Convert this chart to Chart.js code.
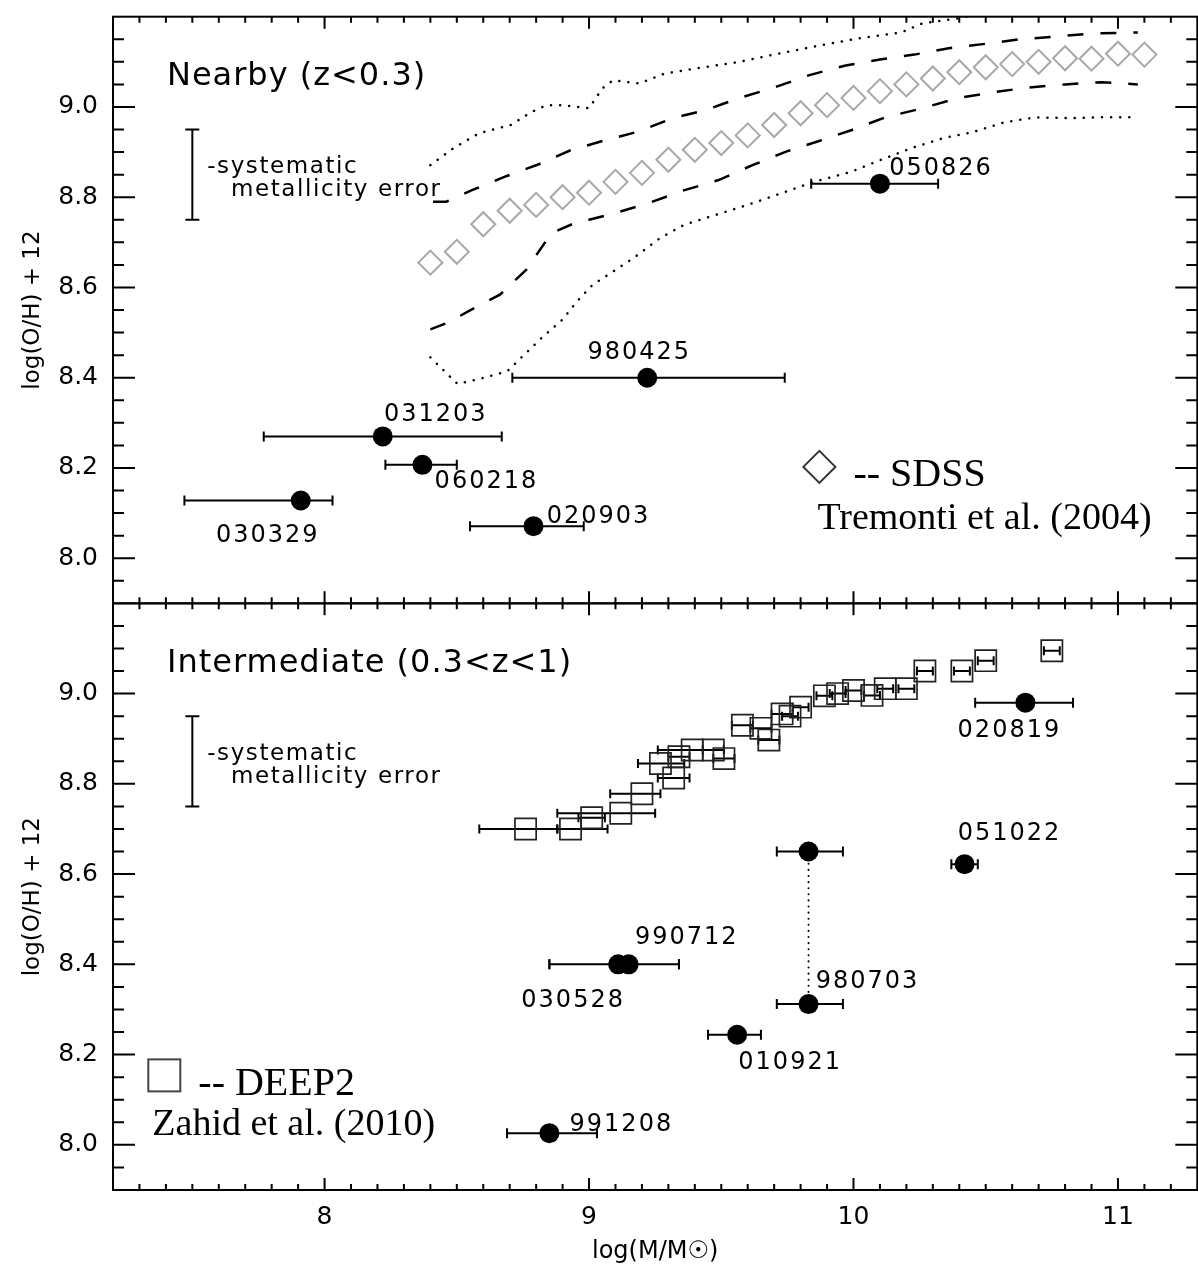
<!DOCTYPE html>
<html>
<head>
<meta charset="utf-8">
<script src="https://cdn.jsdelivr.net/npm/chart.js@4.4.1/dist/chart.umd.min.js"></script>
<style>
html, body { margin: 0; padding: 0; background: #fff; overflow: hidden; }
#wrap { width: 1198px; height: 1270px; overflow: hidden; position: relative; background: #fff; }
canvas { display: block; }
</style>
</head>
<body>
<div id="wrap"><canvas id="c" width="1214" height="1270"></canvas></div>
<script>
// ---------------- DATA ----------------
// Axis ranges and tick labels
const X_MIN = 7.2, X_MAX = 11.3, Y_MIN = 7.9, Y_MAX = 9.2;
const xTickValues = [8, 9, 10, 11];
const yTickValues = [8.0, 8.2, 8.4, 8.6, 8.8, 9.0];

// Nearby GRB hosts (z<0.3)
const nearNames  = ['050826', '980425', '031203', '060218', '030329', '020903'];
const nearMass   = [10.10, 9.22, 8.22, 8.37, 7.91, 8.79];
const nearOH     = [8.83, 8.40, 8.27, 8.207, 8.128, 8.071];
const nearMassLo = [9.84, 8.71, 7.77, 8.23, 7.47, 8.55];
const nearMassHi = [10.32, 9.74, 8.67, 8.50, 8.03, 8.98];

// Intermediate GRB hosts (0.3<z<1)
const midNames   = ['020819', '051022', '', '980703', '990712', '030528', '010921', '991208'];
const midMass    = [10.65, 10.42, 9.83, 9.83, 9.15, 9.11, 9.56, 8.85];
const midOH      = [8.98, 8.622, 8.65, 8.312, 8.40, 8.40, 8.244, 8.026];
const midMassLo  = [10.46, 10.37, 9.71, 9.71, 8.85, 8.85, 9.45, 8.69];
const midMassHi  = [10.83, 10.47, 9.96, 9.96, 9.34, 9.34, 9.65, 9.03];
const linkedPair = [2, 3]; // two metallicity solutions of 980703

// SDSS (Tremonti et al. 2004) median relation
const sdssMass = [8.4, 8.5, 8.6, 8.7, 8.8, 8.9, 9.0, 9.1, 9.2, 9.3, 9.4, 9.5, 9.6, 9.7,
                  9.8, 9.9, 10.0, 10.1, 10.2, 10.3, 10.4, 10.5, 10.6, 10.7, 10.8, 10.9, 11.0, 11.1];
const sdssOH   = [8.655, 8.679, 8.74, 8.77, 8.783, 8.80, 8.81, 8.834, 8.854, 8.883, 8.905, 8.92, 8.937, 8.96,
                  8.986, 9.004, 9.02, 9.035, 9.05, 9.063, 9.077, 9.088, 9.095, 9.10, 9.108, 9.107, 9.118, 9.116];
// SDSS contours: dashed (inner) and dotted (outer)
const sdssUpperMass = [8.41, 8.46, 8.555, 8.68, 8.81, 8.93, 9.06, 9.19, 9.315, 9.44, 9.57, 9.70, 9.83, 9.97, 10.10, 10.23, 10.36, 10.50, 10.63, 10.77, 10.90, 11.075];
const sdssUpperOH   = [8.79, 8.79, 8.815, 8.845, 8.873, 8.904, 8.926, 8.946, 8.975, 8.993, 9.02, 9.043, 9.07, 9.092, 9.105, 9.116, 9.13, 9.14, 9.15, 9.156, 9.163, 9.165];
const sdssLowerMass = [8.40, 8.466, 8.555, 8.663, 8.764, 8.857, 8.947, 9.0, 9.10, 9.226, 9.352, 9.49, 9.618, 9.75, 9.867, 9.994, 10.12, 10.26, 10.39, 10.52, 10.66, 10.80, 10.94, 11.075];
const sdssLowerOH   = [8.507, 8.522, 8.551, 8.584, 8.64, 8.72, 8.743, 8.75, 8.765, 8.787, 8.814, 8.838, 8.871, 8.902, 8.924, 8.949, 8.977, 8.997, 9.019, 9.032, 9.043, 9.05, 9.055, 9.05];
const sdssOuterUpMass = [8.40, 8.488, 8.585, 8.704, 8.78, 8.84, 8.90, 9.00, 9.05, 9.09, 9.19, 9.286, 9.40, 9.56, 9.714, 9.87, 10.02, 10.18, 10.26, 10.415, 10.6];
const sdssOuterUpOH   = [8.871, 8.909, 8.942, 8.96, 8.988, 9.004, 9.004, 8.997, 9.041, 9.059, 9.052, 9.074, 9.085, 9.099, 9.118, 9.136, 9.152, 9.165, 9.185, 9.198, 9.23];
const sdssOuterLoMass = [8.40, 8.503, 8.596, 8.69, 8.757, 8.824, 8.90, 8.954, 9.014, 9.09, 9.17, 9.27, 9.36, 9.48, 9.60, 9.733, 9.85, 9.99, 10.10, 10.22, 10.34, 10.45, 10.57, 10.69, 10.82, 10.92, 11.07];
const sdssOuterLoOH   = [8.445, 8.386, 8.399, 8.414, 8.452, 8.49, 8.529, 8.569, 8.606, 8.635, 8.666, 8.71, 8.739, 8.761, 8.783, 8.81, 8.834, 8.856, 8.882, 8.909, 8.931, 8.944, 8.966, 8.977, 8.975, 8.977, 8.977];

// DEEP2 (Zahid et al. 2010) binned relation
const deepMass   = [8.76, 8.93, 9.01, 9.12, 9.20, 9.27, 9.32, 9.34, 9.39, 9.47, 9.51, 9.58, 9.65, 9.68, 9.73, 9.76, 9.80, 9.89, 9.94, 10.00, 10.07, 10.12, 10.20, 10.27, 10.41, 10.50, 10.75];
const deepOH     = [8.70, 8.70, 8.725, 8.735, 8.778, 8.845, 8.813, 8.86, 8.875, 8.875, 8.856, 8.93, 8.923, 8.897, 8.955, 8.95, 8.97, 8.995, 9.00, 9.007, 8.996, 9.011, 9.011, 9.05, 9.05, 9.073, 9.095];
const deepMassLo = [8.585, 8.88, 8.96, 8.88, 9.08, 9.185, 9.26, 9.30, 9.26, 9.43, 9.47, 9.54, 9.61, 9.64, 9.69, 9.73, 9.77, 9.86, 9.91, 9.97, 10.04, 10.09, 10.17, 10.24, 10.38, 10.47, 10.72];
const deepMassHi = [8.88, 9.07, 9.06, 9.25, 9.27, 9.36, 9.38, 9.38, 9.51, 9.51, 9.55, 9.62, 9.69, 9.72, 9.77, 9.79, 9.83, 9.92, 9.97, 10.03, 10.10, 10.15, 10.23, 10.30, 10.44, 10.53, 10.78];

// Systematic metallicity error bar (both panels)
const systMass = 7.50;
const systOH   = [8.75, 8.95];

// ---------------- LAYOUT (text placement, px offsets) ----------------
const nearLabelOffsets = [[61, -15], [-8, -25], [53, -22], [64, 17], [-33, 35], [65, -9]];
const midLabelOffsets  = [[-16, 28], [45, -30], [0, 0], [59, -22], [58, -27], [-45, 36], [53, 28], [72, -8]];
const panelTitleAt = {x: 7.404, y: 9.066};
const systText1At = {x: 7.556, y: 8.867};
const systText2At = {x: 7.646, y: 8.816};
const sdssLegendAt = {x: 9.871, y: 8.2024};
const deepLegendAt = {x: 7.394, y: 8.154};

const SANS = "'DejaVu Sans', sans-serif";
const SERIF = "'Liberation Serif', serif";

function points(xs, ys) { return xs.map((x, i) => ({x: x, y: ys[i]})); }
function hBars(lo, hi, ys) {
  const out = [];
  ys.forEach((y, i) => { out.push({x: lo[i], y: y}, {x: hi[i], y: y}, {x: hi[i], y: null}); });
  return out;
}

const lineBase = {showLine: true, pointRadius: 0, pointHoverRadius: 0, fill: false, tension: 0, borderColor: '#000', order: 5};
const errBase = {showLine: true, borderColor: '#000', borderWidth: 2, pointStyle: 'line', rotation: 90,
  pointRadius: 5, pointHoverRadius: 5, pointBorderWidth: 2, pointBorderColor: '#000', pointBackgroundColor: '#000',
  spanGaps: false, order: 2, tension: 0};
const dotBase = {pointRadius: 10, pointHoverRadius: 10, pointBackgroundColor: '#000', pointBorderColor: '#000', pointBorderWidth: 0, showLine: false, order: 0};

const datasets = [
  // ---- top panel ----
  Object.assign({label: 'Nearby GRB hosts', data: points(nearMass, nearOH), yAxisID: 'yTop'}, dotBase),
  Object.assign({label: 'Nearby mass errors', data: hBars(nearMassLo, nearMassHi, nearOH), yAxisID: 'yTop'}, errBase),
  Object.assign({label: 'Systematic error (top)', data: systOH.map(v => ({x: systMass, y: v})), yAxisID: 'yTop'}, errBase, {rotation: 0, pointRadius: 7}),
  {label: 'SDSS', data: points(sdssMass, sdssOH), yAxisID: 'yTop', showLine: false, pointStyle: 'rectRot', pointRadius: 12, pointHoverRadius: 12,
   pointBorderColor: '#a8a8a8', pointBackgroundColor: 'rgba(0,0,0,0)', pointBorderWidth: 2, order: 4},
  Object.assign({label: 'SDSS upper dashed', data: points(sdssUpperMass, sdssUpperOH), yAxisID: 'yTop'}, lineBase, {borderWidth: 2.5, borderDash: [16, 17]}),
  Object.assign({label: 'SDSS lower dashed', data: points(sdssLowerMass, sdssLowerOH), yAxisID: 'yTop'}, lineBase, {borderWidth: 2.5, borderDash: [16, 17]}),
  Object.assign({label: 'SDSS upper dotted', data: points(sdssOuterUpMass, sdssOuterUpOH), yAxisID: 'yTop'}, lineBase, {borderWidth: 2.5, borderDash: [0.1, 9], borderCapStyle: 'round'}),
  Object.assign({label: 'SDSS lower dotted', data: points(sdssOuterLoMass, sdssOuterLoOH), yAxisID: 'yTop'}, lineBase, {borderWidth: 2.5, borderDash: [0.1, 9], borderCapStyle: 'round'}),
  // ---- bottom panel ----
  Object.assign({label: 'Intermediate GRB hosts', data: points(midMass, midOH), yAxisID: 'yBot'}, dotBase),
  Object.assign({label: 'Intermediate mass errors', data: hBars(midMassLo, midMassHi, midOH), yAxisID: 'yBot'}, errBase),
  Object.assign({label: 'Systematic error (bottom)', data: systOH.map(v => ({x: systMass, y: v})), yAxisID: 'yBot'}, errBase, {rotation: 0, pointRadius: 7}),
  Object.assign({label: '980703 link', data: linkedPair.map(i => ({x: midMass[i], y: midOH[i]})), yAxisID: 'yBot'}, lineBase, {borderWidth: 2, borderDash: [0.1, 6], borderCapStyle: 'round'}),
  {label: 'DEEP2', data: points(deepMass, deepOH), yAxisID: 'yBot', showLine: false, pointStyle: 'rect', pointRadius: 15, pointHoverRadius: 15,
   pointBorderColor: '#222', pointBackgroundColor: 'rgba(0,0,0,0)', pointBorderWidth: 1.7, order: 3},
  Object.assign({label: 'DEEP2 mass errors', data: hBars(deepMassLo, deepMassHi, deepOH), yAxisID: 'yBot'}, errBase, {order: 3, pointRadius: 4.5})
];

function yAxis(weight) {
  return {
    type: 'linear', position: 'left', stack: 'panels', stackWeight: 1, weight: weight,
    min: Y_MIN, max: Y_MAX,
    afterBuildTicks: s => { s.ticks = yTickValues.map(v => ({value: v})); },
    afterFit: s => { s.width = 113; s.paddingTop = 0; s.paddingBottom = 0; s.paddingLeft = 0; s.paddingRight = 0; },
    grid: {display: false, drawTicks: false},
    border: {display: false},
    ticks: {color: '#000', font: {family: SANS, size: 25}, padding: 15, callback: v => Number(v).toFixed(1)},
    title: {display: true, text: 'log(O/H) + 12', color: '#000', font: {family: SANS, size: 23}, padding: {top: 19, bottom: 0}}
  };
}

const annotPlugin = {
  id: 'annot',
  afterDatasetsDraw(chart) {
    const c = chart.ctx, xs = chart.scales.x, area = chart.chartArea;
    const yTop = chart.scales.yTop, yBot = chart.scales.yBot;
    const px = v => xs.getPixelForValue(v);
    c.save();
    // frames and inward ticks
    c.strokeStyle = '#000'; c.lineWidth = 2; c.lineCap = 'butt';
    for (const ys of [yTop, yBot]) {
      const T = ys.top, B = ys.bottom, L = area.left, R = area.right;
      c.strokeRect(L, T, R - L, B - T);
      c.beginPath();
      for (let k = Math.round(X_MIN * 10) + 1; k < Math.round(X_MAX * 10); k++) {
        const x = px(k / 10); const len = (k % 10 === 0) ? 12 : 6;
        c.moveTo(x, B); c.lineTo(x, B - len);
        c.moveTo(x, T); c.lineTo(x, T + len);
      }
      for (let k = Math.round(Y_MIN * 20) + 1; k < Math.round(Y_MAX * 20); k++) {
        const y = ys.getPixelForValue(k / 20); const len = (k % 4 === 0) ? 22 : 11;
        c.moveTo(L, y); c.lineTo(L + len, y);
        c.moveTo(R, y); c.lineTo(R - len, y);
      }
      c.stroke();
    }
    c.fillStyle = '#000';
    // GRB labels
    c.textAlign = 'center'; c.textBaseline = 'middle';
    c.font = '24px ' + SANS;
    if ('letterSpacing' in c) c.letterSpacing = '2px';
    nearNames.forEach((n, i) => {
      const o = nearLabelOffsets[i];
      c.fillText(n, px(nearMass[i]) + o[0], yTop.getPixelForValue(nearOH[i]) + o[1]);
    });
    midNames.forEach((n, i) => {
      if (!n) return;
      const o = midLabelOffsets[i];
      c.fillText(n, px(midMass[i]) + o[0], yBot.getPixelForValue(midOH[i]) + o[1]);
    });
    // panel titles
    c.textAlign = 'left';
    c.font = '32px ' + SANS;
    if ('letterSpacing' in c) c.letterSpacing = '1px';
    c.fillText('Nearby (z<0.3)', px(panelTitleAt.x), yTop.getPixelForValue(panelTitleAt.y));
    c.fillText('Intermediate (0.3<z<1)', px(panelTitleAt.x), yBot.getPixelForValue(panelTitleAt.y));
    // systematic error labels
    c.font = '23px ' + SANS;
    if ('letterSpacing' in c) c.letterSpacing = '1.6px';
    for (const ys of [yTop, yBot]) {
      c.fillText('-systematic', px(systText1At.x), ys.getPixelForValue(systText1At.y));
      c.fillText('metallicity error', px(systText2At.x), ys.getPixelForValue(systText2At.y));
    }
    if ('letterSpacing' in c) c.letterSpacing = '0px';
    // SDSS legend
    let gx = px(sdssLegendAt.x), gy = yTop.getPixelForValue(sdssLegendAt.y);
    c.strokeStyle = '#333'; c.lineWidth = 2;
    c.beginPath();
    c.moveTo(gx - 16, gy); c.lineTo(gx, gy - 16); c.lineTo(gx + 16, gy); c.lineTo(gx, gy + 16); c.closePath();
    c.stroke();
    c.textBaseline = 'alphabetic';
    c.font = '40px ' + SERIF;
    c.fillText('-- SDSS', gx + 34, gy + 19);
    c.font = '38px ' + SERIF;
    c.fillText('Tremonti et al. (2004)', gx - 2, gy + 62);
    // DEEP2 legend
    gx = px(deepLegendAt.x); gy = yBot.getPixelForValue(deepLegendAt.y);
    c.strokeStyle = '#444'; c.lineWidth = 2;
    c.strokeRect(gx - 16, gy - 16, 32, 32);
    c.font = '40px ' + SERIF;
    c.fillText('-- DEEP2', gx + 34, gy + 20);
    c.font = '38px ' + SERIF;
    c.fillText('Zahid et al. (2010)', gx - 12, gy + 60);
    c.restore();
  }
};

new Chart(document.getElementById('c'), {
  type: 'scatter',
  data: {datasets: datasets},
  options: {
    responsive: false,
    animation: false,
    events: [],
    layout: {padding: {top: 10, left: 0, right: 1, bottom: 0}},
    plugins: {legend: {display: false}, tooltip: {enabled: false}},
    scales: {
      x: {
        type: 'linear', position: 'bottom', min: X_MIN, max: X_MAX,
        afterBuildTicks: s => { s.ticks = xTickValues.map(v => ({value: v})); },
        afterFit: s => { s.height = 80; s.paddingLeft = 0; s.paddingRight = 0; s.paddingTop = 0; s.paddingBottom = 0; },
        grid: {display: false, drawTicks: false},
        border: {display: false},
        ticks: {color: '#000', font: {family: SANS, size: 25}, padding: 12, autoSkip: false, maxRotation: 0, callback: v => String(v)},
        title: {display: true, text: 'log(M/M\u2609)', color: '#000', font: {family: SANS, size: 24}, padding: {top: 0, bottom: 4}}
      },
      yTop: yAxis(1),
      yBot: yAxis(0)
    }
  },
  plugins: [annotPlugin]
});
</script>
</body>
</html>
